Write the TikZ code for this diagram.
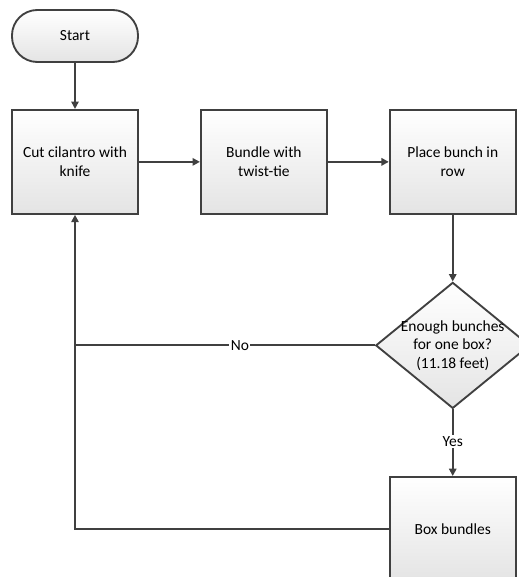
\documentclass[tikz,border=0pt]{standalone}
\usepackage{fontspec}
\setmainfont{Carlito}
\usetikzlibrary{shapes.geometric,positioning,arrows.meta}
\definecolor{linegray}{HTML}{404040}
\definecolor{shadegray}{HTML}{E4E4E4}

\tikzset{
  every node/.style={font=\fontsize{11.6pt}{14pt}\selectfont},
  flowfill/.style={draw=linegray, line width=1.4pt, top color=white, bottom color=shadegray},
  termbox/.style={flowfill, rectangle, rounded corners=19pt, minimum width=94.5pt, minimum height=39pt, inner sep=0pt},
  stepbox/.style={flowfill, rectangle, minimum width=94.5pt, minimum height=78pt, align=center, inner sep=0pt},
  choicebox/.style={flowfill, diamond, minimum width=115.5pt, minimum height=94.5pt, aspect=1.2, align=center, inner sep=-12pt},
  flowline/.style={draw=linegray, line width=1.4pt},
  flowarrow/.style={flowline, -{Triangle[length=5.5pt,width=5.5pt]}},
  edgelabel/.style={fill=white, inner sep=1pt}
}

\begin{document}
\begin{tikzpicture}[node distance=34.5pt and 45.75pt]
\useasboundingbox (0,0) rectangle (388.5pt,-432.75pt);

% nodes
\node [termbox] (start) at (56.25pt,-27pt) {Start};
\node [stepbox, below=of start] (cut) {Cut cilantro with\\knife};
\node [stepbox, right=of cut] (bundle) {Bundle with\\twist-tie};
\node [stepbox, right=of bundle] (place) {Place bunch in\\row};
\node [choicebox, below=50pt of place] (enough) {Enough bunches\\for one box?\\(11.18 feet)};
\node [stepbox, below=50pt of enough] (boxit) {Box bundles};
\coordinate (loopno) at (cut.south |- enough.west);

% connectors
\draw [flowarrow] (start) -- (cut);
\draw [flowarrow] (cut) -- (bundle);
\draw [flowarrow] (bundle) -- (place);
\draw [flowarrow] (place) -- (enough);
\draw [flowarrow] (enough) -- node [edgelabel, pos=0.48] {Yes} (boxit);
\draw [flowline] (enough.west) -- node [edgelabel, pos=0.45] {No} (loopno);
\draw [flowarrow] (boxit.west) -| (cut.south);

\end{tikzpicture}
\end{document}
